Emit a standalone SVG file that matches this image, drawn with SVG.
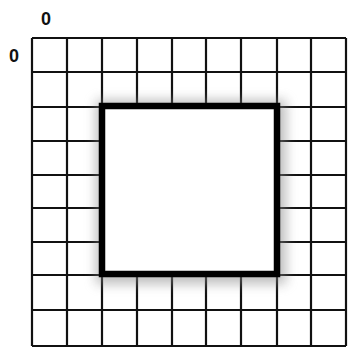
<svg xmlns="http://www.w3.org/2000/svg" width="348" height="350" viewBox="0 0 348 350">
<defs>
<filter id="blur" x="-30%" y="-30%" width="160%" height="160%"><feGaussianBlur stdDeviation="6"/></filter>
<style>
.g{stroke:#111;stroke-width:2.2;fill:none}
.lbl{font-family:"Liberation Sans",Arial,sans-serif;font-size:18px;font-weight:bold;fill:#111;text-anchor:middle}
</style>
</defs>
<rect width="348" height="350" fill="#fff"/>
<g id="grid">
<path class="g" d="M32,38V346M67,38V346M102,38V346M137,38V346M172,38V346M206,38V346M241,38V346M277,38V346M311,38V346M346,38V346"/>
<path class="g" d="M32,38H346M32,72H346M32,107H346M32,141H346M32,175H346M32,208H346M32,242H346M32,275H346M32,310H346M32,346H346"/>
</g>
<g id="square">
<rect x="96" y="100" width="190" height="184" fill="#888" opacity="0.55" filter="url(#blur)"/>
<rect x="102" y="106" width="175" height="168" fill="#fff" stroke="#000" stroke-width="6.5"/>
</g>
<g id="labels">
<text class="lbl" x="46" y="25">0</text>
<text class="lbl" x="14" y="62">0</text>
</g>
</svg>
